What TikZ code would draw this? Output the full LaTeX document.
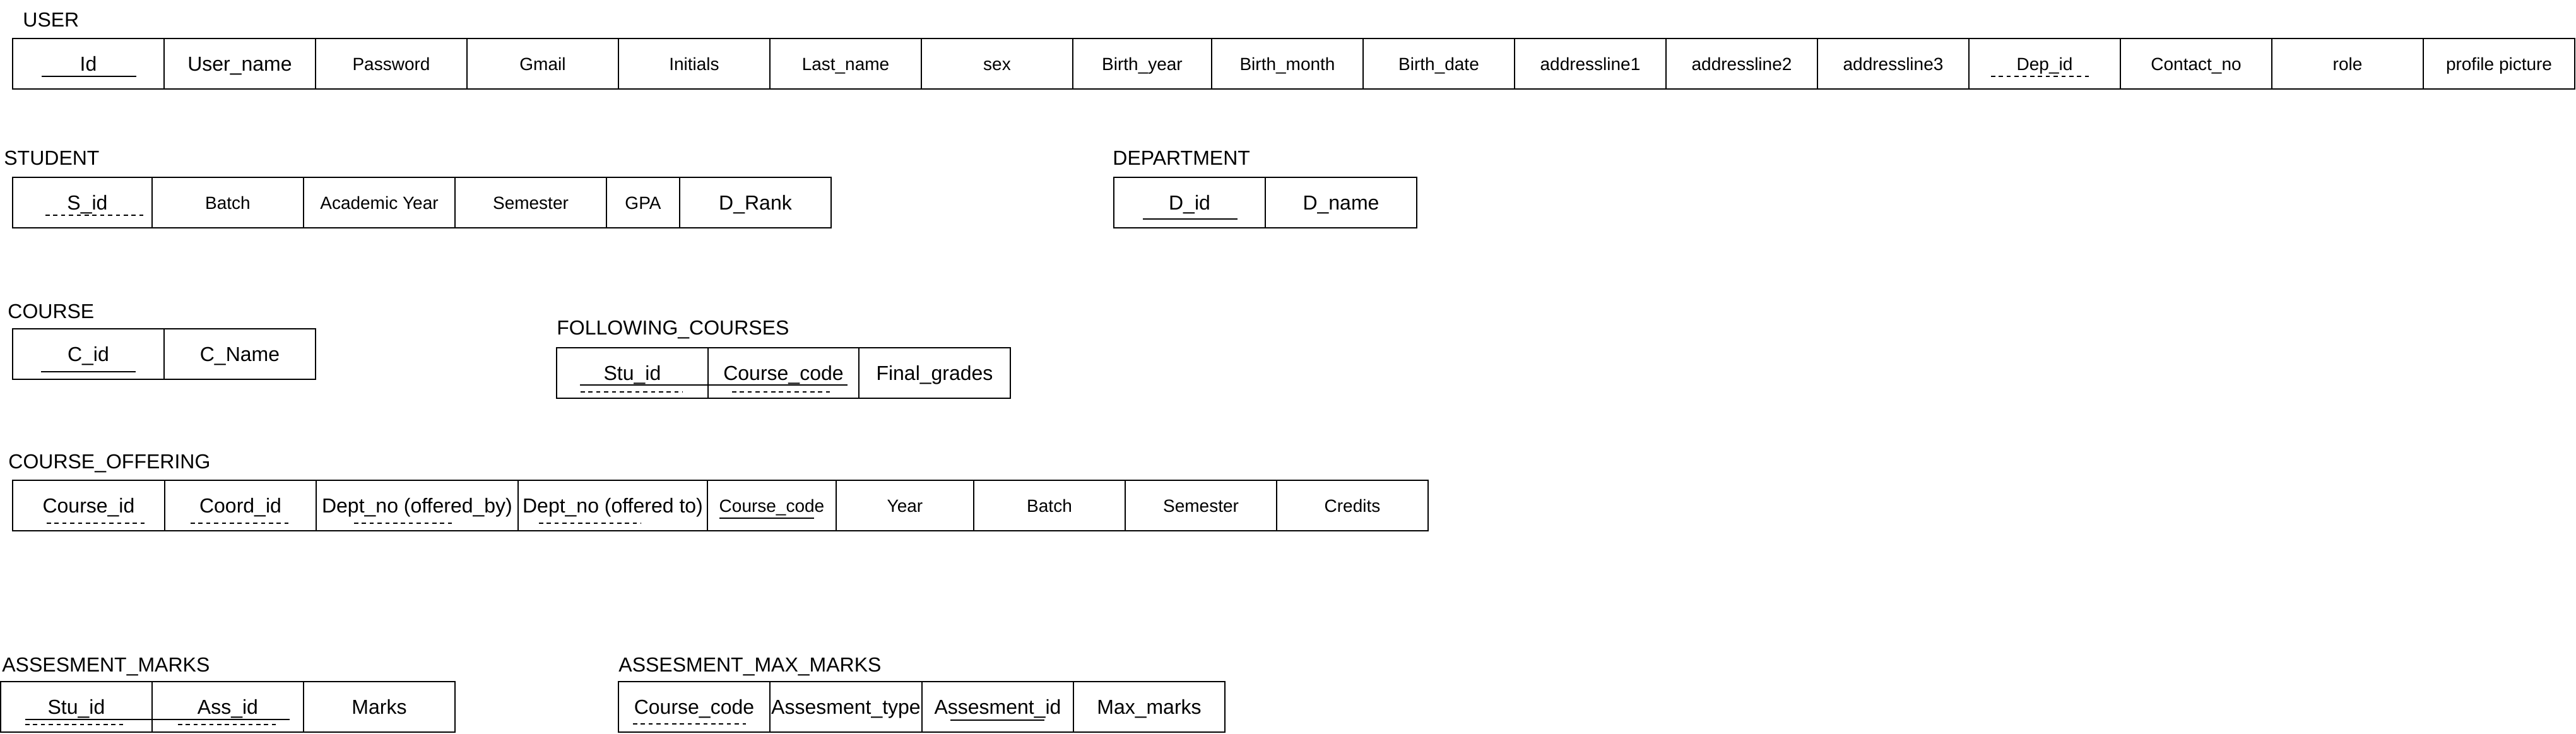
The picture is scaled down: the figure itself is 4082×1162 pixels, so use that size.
\documentclass[tikz,border=0pt]{standalone}
\usepackage{fontspec}
\setmainfont{Liberation Sans}
\usetikzlibrary{positioning,fit}

\begin{document}
\begin{tikzpicture}[x=0.5pt,y=-0.5pt,
  cell/.style={draw,line width=0.7pt,minimum height=40pt,minimum width=120pt,inner sep=0pt,outer sep=0pt,
    font=\fontsize{14}{17}\selectfont,text height=10pt,text depth=0pt},
  big/.style={font=\fontsize{16}{19}\selectfont,text height=11.5pt},
  title/.style={anchor=west,inner sep=0pt,font=\fontsize{16}{19}\selectfont,text height=11.5pt,text depth=0pt},
  frame/.style={draw,line width=1pt,inner sep=0pt},
  pk/.style={line width=0.8pt},
  fk/.style={line width=0.8pt,dash pattern=on 3.3pt off 2.9pt}]
\useasboundingbox (0,0) rectangle (4082,1162);

% USER
\node[title] (usertitle) at (36,31) {USER};
\node[cell,big] (uid) at (140,101) {Id};
\node[cell,big,right=0pt of uid] (uname) {User\_name};
\node[cell,right=0pt of uname] (upass) {Password};
\node[cell,right=0pt of upass] (ugmail) {Gmail};
\node[cell,right=0pt of ugmail] (uinit) {Initials};
\node[cell,right=0pt of uinit] (ulast) {Last\_name};
\node[cell,right=0pt of ulast] (usex) {sex};
\node[cell,minimum width=110pt,right=0pt of usex] (ubyear) {Birth\_year};
\node[cell,right=0pt of ubyear] (ubmonth) {Birth\_month};
\node[cell,right=0pt of ubmonth] (ubdate) {Birth\_date};
\node[cell,right=0pt of ubdate] (uaddra) {addressline1};
\node[cell,right=0pt of uaddra] (uaddrb) {addressline2};
\node[cell,right=0pt of uaddrb] (uaddrc) {addressline3};
\node[cell,right=0pt of uaddrc] (udep) {Dep\_id};
\node[cell,right=0pt of udep] (ucontact) {Contact\_no};
\node[cell,right=0pt of ucontact] (urole) {role};
\node[cell,right=0pt of urole] (upic) {profile picture};
\node[frame,fit=(uid)(upic)] (user) {};
\draw[pk] (66,121) -- (216,121);
\draw[fk] (3155,121) -- (3314,121);

% STUDENT
\node[title] (studtitle) at (6,250) {STUDENT};
\node[cell,big,minimum width=110.5pt] (sid) at (130.5,321) {\hspace*{8pt}S\_id};
\node[cell,right=0pt of sid] (sbatch) {Batch};
\node[cell,right=0pt of sbatch] (syear) {Academic Year};
\node[cell,right=0pt of syear] (ssem) {Semester};
\node[cell,minimum width=58pt,right=0pt of ssem] (sgpa) {GPA};
\node[cell,big,right=0pt of sgpa] (srank) {D\_Rank};
\node[frame,fit=(sid)(srank)] (student) {};
\draw[fk] (72,341) -- (228,341);

% DEPARTMENT
\node[title] (deptitle) at (1763,250) {DEPARTMENT};
\node[cell,big] (did) at (1885,321) {D\_id};
\node[cell,big,right=0pt of did] (dname) {D\_name};
\node[frame,fit=(did)(dname)] (department) {};
\draw[pk] (1811,347) -- (1961,347);

% COURSE
\node[title] (coursetitle) at (12,493) {COURSE};
\node[cell,big] (cid) at (140,561) {C\_id};
\node[cell,big,right=0pt of cid] (cname) {C\_Name};
\node[frame,fit=(cid)(cname)] (course) {};
\draw[pk] (65,589) -- (215,589);

% FOLLOWING_COURSES
\node[title] (foltitle) at (882,519) {FOLLOWING\_COURSES};
\node[cell,big] (fstu) at (1002,591) {Stu\_id};
\node[cell,big,minimum width=119.5pt,right=0pt of fstu] (fcode) {Course\_code};
\node[cell,big,right=0pt of fcode] (fgrade) {Final\_grades};
\node[frame,fit=(fstu)(fgrade)] (following) {};
\draw[pk] (919,610) -- (1343,610);
\draw[fk] (920,621) -- (1082,621);
\draw[fk] (1160,621) -- (1321,621);

% COURSE_OFFERING
\node[title] (offtitle) at (13,731) {COURSE\_OFFERING};
\node[cell,big,minimum width=120.5pt] (ocid) at (140.5,801) {Course\_id};
\node[cell,big,right=0pt of ocid] (ocoord) {Coord\_id};
\node[cell,big,minimum width=160pt,right=0pt of ocoord] (oby) {Dept\_no (offered\_by)};
\node[cell,big,minimum width=150pt,right=0pt of oby] (oto) {Dept\_no (offered to)};
\node[cell,minimum width=102pt,right=0pt of oto] (ocode) {Course\_code};
\node[cell,minimum width=109pt,right=0pt of ocode] (oyear) {Year};
\node[cell,right=0pt of oyear] (obatch) {Batch};
\node[cell,right=0pt of obatch] (osem) {Semester};
\node[cell,right=0pt of osem] (ocred) {Credits};
\node[frame,fit=(ocid)(ocred)] (offering) {};
\draw[fk] (74,829) -- (234,829);
\draw[fk] (302,829) -- (459,829);
\draw[fk] (561,829) -- (721,829);
\draw[fk] (854,829) -- (1016,829);
\draw[pk] (1140,821) -- (1290,821);

% ASSESMENT_MARKS
\node[title] (amtitle) at (3,1053) {ASSESMENT\_MARKS};
\node[cell,big] (astu) at (121,1120) {Stu\_id};
\node[cell,big,right=0pt of astu] (aass) {Ass\_id};
\node[cell,big,right=0pt of aass] (amarks) {Marks};
\node[frame,fit=(astu)(amarks)] (asmarks) {};
\draw[pk] (40,1140) -- (459,1140);
\draw[fk] (40,1148) -- (201,1148);
\draw[fk] (282,1148) -- (441,1148);

% ASSESMENT_MAX_MARKS
\node[title] (mmtitle) at (980,1053) {ASSESMENT\_MAX\_MARKS};
\node[cell,big] (mcode) at (1100,1120) {Course\_code};
\node[cell,big,minimum width=120.5pt,right=0pt of mcode] (mtype) {Assesment\_type};
\node[cell,big,right=0pt of mtype] (mid) {Assesment\_id};
\node[cell,big,right=0pt of mid] (mmax) {Max\_marks};
\node[frame,fit=(mcode)(mmax)] (maxmarks) {};
\draw[fk] (1003,1147) -- (1182,1147);
\draw[pk] (1506,1141) -- (1655,1141);

\end{tikzpicture}
\end{document}
